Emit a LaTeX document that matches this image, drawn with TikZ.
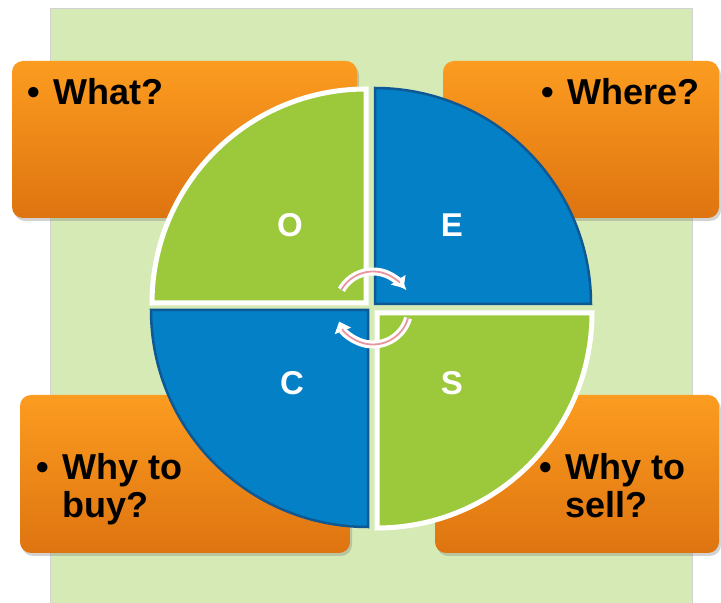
\documentclass[tikz,border=0pt]{standalone}
\usepackage{fontspec}
\setmainfont{Liberation Sans}
\usetikzlibrary{arrows.meta, shadows}

\definecolor{meadow}{RGB}{214,234,181}
\definecolor{leaf}{RGB}{156,201,59}
\definecolor{sea}{RGB}{4,128,198}
\definecolor{deepsea}{RGB}{14,88,148}
\definecolor{amber}{RGB}{252,156,32}
\definecolor{rust}{RGB}{222,116,16}
\definecolor{blush}{RGB}{232,150,160}

\begin{document}
\begin{tikzpicture}[
    x=1pt, y=1pt,
    >=Stealth,
    askbox/.style={rectangle, rounded corners=11pt, draw=none,
                   top color=amber, bottom color=rust,
                   drop shadow={opacity=0.35, shadow xshift=2pt, shadow yshift=-3pt}},
    ask/.style={anchor=base west, inner sep=0pt,
                font=\fontsize{36}{37}\selectfont\bfseries},
    greenquad/.style={fill=leaf, draw=white, line width=5pt},
    bluequad/.style={fill=sea, draw=deepsea, line width=2.5pt},
    letter/.style={text=white, font=\fontsize{33}{33}\selectfont\bfseries},
    cyclewhite/.style={draw=white, line width=8pt,
                       -{Triangle[width=17pt, length=10pt]}},
    cyclepink/.style={draw=blush, line width=1.8pt, shorten >=8pt}
  ]
  \useasboundingbox (0,0) rectangle (721,603);
  \fill[meadow, draw=gray!35, line width=0.6pt] (50,0) rectangle (692,595);

  \node[askbox, minimum width=345pt, minimum height=157pt] (what) at (184.5,463.5) {};
  \node[askbox, minimum width=276pt, minimum height=157pt] (where) at (581,463.5) {};
  \node[askbox, minimum width=330pt, minimum height=158pt] (buy) at (185,129) {};
  \node[askbox, minimum width=284pt, minimum height=158pt] (sell) at (577,129) {};

  \node[ask] (whattxt) at (27,498)
    {\begin{tabular}[t]{@{}l@{\hspace{13.7pt}}l@{}}\textbullet & What?\end{tabular}};
  \node[ask] (wheretxt) at (541,498)
    {\begin{tabular}[t]{@{}l@{\hspace{13.7pt}}l@{}}\textbullet & Where?\end{tabular}};
  \node[ask] (buytxt) at (36,123)
    {\begin{tabular}[t]{@{}l@{\hspace{13.7pt}}l@{}}\textbullet & Why to\\ & buy?\end{tabular}};
  \node[ask] (selltxt) at (539,123)
    {\begin{tabular}[t]{@{}l@{\hspace{13.7pt}}l@{}}\textbullet & Why to\\ & sell?\end{tabular}};

  \draw[greenquad] (366,300) -- ++(-214,0) arc[start angle=180, end angle=90, radius=214] -- cycle;
  \draw[bluequad] (375,299) -- ++(0,216) arc[start angle=90, end angle=0, radius=216] -- cycle;
  \draw[bluequad] (368,293) -- ++(-217,0) arc[start angle=180, end angle=270, radius=217] -- cycle;
  \draw[greenquad] (377,290) -- ++(215,0) arc[start angle=0, end angle=-90, radius=215] -- cycle;

  \node[letter] (o) at (290,378) {O};
  \node[letter] (e) at (452,378) {E};
  \node[letter] (c) at (292,220) {C};
  \node[letter] (s) at (452,220) {S};

  \coordinate (hub) at (373,295);
  \draw[cyclewhite] (hub) ++(150:36.5) arc[start angle=150, end angle=33, radius=36.5];
  \draw[cyclewhite] (hub) ++(-16:36.5) arc[start angle=-16, end angle=-158, radius=36.5];
  \draw[cyclepink] (hub) ++(150:36.5) arc[start angle=150, end angle=33, radius=36.5];
  \draw[cyclepink] (hub) ++(-16:36.5) arc[start angle=-16, end angle=-158, radius=36.5];
\end{tikzpicture}
\end{document}
